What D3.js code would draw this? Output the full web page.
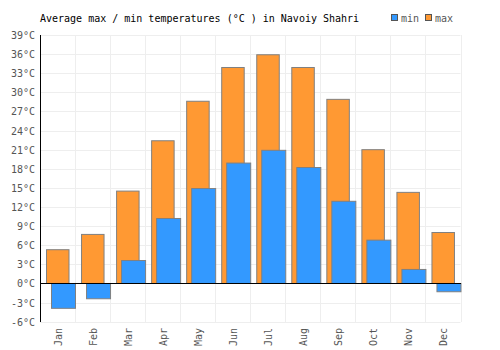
<!DOCTYPE html>
<html><head><meta charset="utf-8">
<script src="https://cdn.jsdelivr.net/npm/d3@7"></script>
<style>body{margin:0;background:#fff}svg{display:block}</style>
</head><body>
<script>
const months = ["Jan","Feb","Mar","Apr","May","Jun","Jul","Aug","Sep","Oct","Nov","Dec"];
const maxTemps = [5.3, 7.7, 14.5, 22.4, 28.6, 33.9, 35.9, 33.9, 28.9, 21.0, 14.3, 8.0];
const minTemps = [-3.9, -2.4, 3.6, 10.2, 14.9, 18.9, 20.9, 18.2, 12.9, 6.8, 2.2, -1.3];
const yTicks = [-6,-3,0,3,6,9,12,15,18,21,24,27,30,33,36,39];

const W = 500, H = 350;
const font = "'DejaVu Sans Mono', monospace";
const svg = d3.select("body").append("svg").attr("width", W).attr("height", H);

const x = d3.scaleBand().domain(months).range([40, 460.5]).padding(0);
const y = d3.scaleLinear().domain([-6, 39]).range([321.7, 35]);

// grid
const g = svg.append("g");
g.selectAll("line.h").data(yTicks).join("line")
  .attr("x1", 40).attr("x2", 460.5)
  .attr("y1", d => Math.round(y(d)) + 0.5).attr("y2", d => Math.round(y(d)) + 0.5)
  .attr("stroke", "#eeeeee").attr("stroke-width", 1);
g.selectAll("line.v").data(months.map((m,i)=>i+1)).join("line")
  .attr("x1", i => Math.round(40 + i * x.bandwidth()) + 0.5)
  .attr("x2", i => Math.round(40 + i * x.bandwidth()) + 0.5)
  .attr("y1", 35).attr("y2", 322)
  .attr("stroke", "#eeeeee").attr("stroke-width", 1);

const bw = x.bandwidth();
// max bars
svg.append("g").selectAll("rect").data(months).join("rect")
  .attr("x", (m) => x(m) + 6.5)
  .attr("width", 22.5)
  .attr("y", (m,i) => y(Math.max(0, maxTemps[i])))
  .attr("height", (m,i) => Math.abs(y(maxTemps[i]) - y(0)))
  .attr("fill", "#ff9933").attr("stroke", "#808080").attr("stroke-width", 1);
// min bars
svg.append("g").selectAll("rect").data(months).join("rect")
  .attr("x", (m) => x(m) + 11.5)
  .attr("width", 24)
  .attr("y", (m,i) => y(Math.max(0, minTemps[i])))
  .attr("height", (m,i) => Math.abs(y(minTemps[i]) - y(0)))
  .attr("fill", "#3399ff").attr("stroke", "#808080").attr("stroke-width", 1);

// zero line and y axis line
svg.append("line").attr("x1", 40).attr("x2", 461).attr("y1", Math.round(y(0)) + 0.5).attr("y2", Math.round(y(0)) + 0.5)
  .attr("stroke", "#000").attr("stroke-width", 1);
svg.append("line").attr("x1", 40.5).attr("x2", 40.5).attr("y1", 35).attr("y2", 322)
  .attr("stroke", "#000").attr("stroke-width", 1);

// y labels
svg.append("g").selectAll("text").data(yTicks).join("text")
  .attr("x", 35).attr("y", d => y(d) + 4)
  .attr("text-anchor", "end").attr("font-family", font).attr("font-size", 10)
  .attr("fill", "#555").text(d => d + "°C");

// x labels
svg.append("g").selectAll("text").data(months).join("text")
  .attr("transform", m => `translate(${x(m) + bw/2 + 4},328) rotate(-90)`)
  .attr("text-anchor", "end").attr("font-family", font).attr("font-size", 10)
  .attr("fill", "#555").text(m => m);

// title
svg.append("text").attr("x", 40).attr("y", 22).attr("font-family", font).attr("font-size", 10)
  .attr("fill", "#000").text("Average max / min temperatures (°C ) in Navoiy Shahri");

// legend
const legend = [{k:"min", c:"#3399ff", x:391}, {k:"max", c:"#ff9933", x:425}];
const lg = svg.append("g").selectAll("g").data(legend).join("g");
lg.append("rect").attr("x", d => d.x + 0.5).attr("y", 14.5).attr("width", 6).attr("height", 6)
  .attr("fill", d => d.c).attr("stroke", "#555").attr("stroke-width", 1);
lg.append("text").attr("x", d => d.x + 10).attr("y", 22).attr("font-family", font).attr("font-size", 10)
  .attr("fill", "#555").text(d => d.k);
</script>
</body></html>
